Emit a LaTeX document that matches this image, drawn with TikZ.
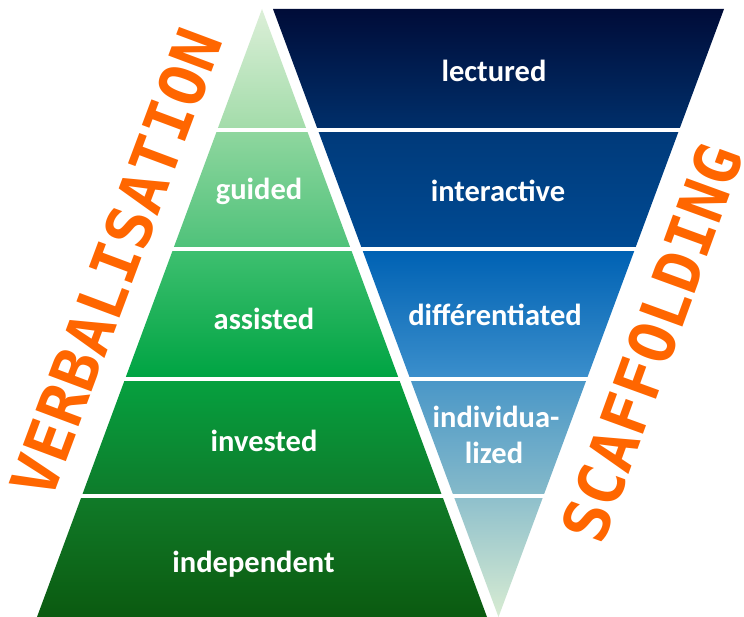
\documentclass[tikz,border=0pt]{standalone}
\usepackage{fontspec}
\newfontfamily\labelfont{Carlito}
\newfontfamily\sidefont{DejaVu Sans Mono}
\definecolor{orangetxt}{RGB}{255,102,0}
\definecolor{g1t}{HTML}{DCEFD8}\definecolor{g1b}{HTML}{A3DCAA}
\definecolor{g2t}{HTML}{8ED69E}\definecolor{g2b}{HTML}{4FC27A}
\definecolor{g3t}{HTML}{3DBF6F}\definecolor{g3b}{HTML}{00A443}
\definecolor{g4t}{HTML}{06A03F}\definecolor{g4b}{HTML}{0E7C2B}
\definecolor{g5t}{HTML}{107A28}\definecolor{g5b}{HTML}{0B5A10}
\definecolor{b1t}{HTML}{000C38}\definecolor{b1b}{HTML}{002F6A}
\definecolor{b2t}{HTML}{003A7A}\definecolor{b2b}{HTML}{004B94}
\definecolor{b3t}{HTML}{0062B4}\definecolor{b3b}{HTML}{3A8ECB}
\definecolor{b4t}{HTML}{4A97C8}\definecolor{b4b}{HTML}{84B9C9}
\definecolor{b5t}{HTML}{8FC0CC}\definecolor{b5b}{HTML}{D8ECD2}
\begin{document}
\begin{tikzpicture}[x=1pt,y=-1pt,
  lab/.style={text=white,font=\labelfont\bfseries\fontsize{30.5}{36}\selectfont,inner sep=0pt,anchor=base},
  side/.style={text=orangetxt,font=\sidefont\bfseries\fontsize{63}{63}\selectfont,inner sep=0pt}]
\useasboundingbox[fill=white] (0,0) rectangle (744,617);
% green pyramid
\begin{scope}
  \clip (262,9) -- (487,617) -- (37,617) -- cycle;
  \shade[top color=g1t,bottom color=g1b] (0,9) rectangle (744,128);
  \shade[top color=g2t,bottom color=g2b] (0,133) rectangle (744,247);
  \shade[top color=g3t,bottom color=g3b] (0,252) rectangle (744,376);
  \shade[top color=g4t,bottom color=g4b] (0,381) rectangle (744,493);
  \shade[top color=g5t,bottom color=g5b] (0,498) rectangle (744,617);
\end{scope}
% blue inverted pyramid
\begin{scope}
  \clip (273,9) -- (724,9) -- (498.5,617) -- cycle;
  \shade[top color=b1t,bottom color=b1b] (0,9) rectangle (744,128);
  \shade[top color=b2t,bottom color=b2b] (0,133) rectangle (744,247);
  \shade[top color=b3t,bottom color=b3b] (0,252) rectangle (744,376);
  \shade[top color=b4t,bottom color=b4b] (0,381) rectangle (744,493);
  \shade[top color=b5t,bottom color=b5b] (0,498) rectangle (744,617);
\end{scope}
% labels
\node[lab] (guided) at (259,200) {guided};
\node[lab] (assisted) at (264,330) {assisted};
\node[lab] (invested) at (264,451) {invested};
\node[lab] (independent) at (253.5,572) {independent};
\node[lab] (lectured) at (494,82) {lectured};
\node[lab] (interactive) at (498,202) {interactive};
\node[lab] (differentiated) at (495,326) {différentiated};
\node[lab] (individua) at (496,427) {individua-};
\node[lab] (lized) at (494,463) {lized};
% side titles
\node[side,rotate=69.5] (verbal) at (116,263) {VERBALISATION};
\node[side,rotate=70] (scaff) at (652,343) {SCAFFOLDING};
\end{tikzpicture}
\end{document}
